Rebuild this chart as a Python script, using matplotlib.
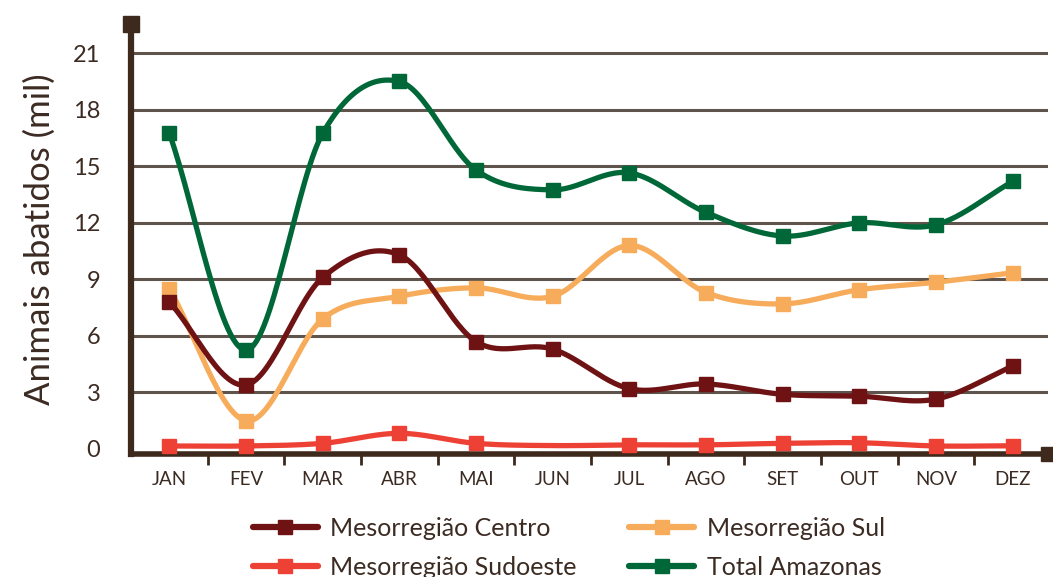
import numpy as np
import matplotlib
matplotlib.use("Agg")
import matplotlib.pyplot as plt
from matplotlib.lines import Line2D

plt.rcParams['font.family'] = ['Lato', 'DejaVu Sans']

meses = ["JAN", "FEV", "MAR", "ABR", "MAI", "JUN", "JUL", "AGO", "SET", "OUT", "NOV", "DEZ"]

centro = [7.8, 3.4, 9.1, 10.3, 5.7, 5.3, 3.2, 3.45, 2.9, 2.8, 2.65, 4.4]
sul = [8.5, 1.5, 6.9, 8.1, 8.55, 8.1, 10.8, 8.3, 7.7, 8.45, 8.85, 9.35]
sudoeste = [0.16, 0.16, 0.3, 0.83, 0.3, 0.18, 0.22, 0.22, 0.3, 0.33, 0.16, 0.17]
total = [16.75, 5.25, 16.75, 19.5, 14.8, 13.75, 14.65, 12.55, 11.3, 12.0, 11.9, 14.2]

# Sudoeste nao tem marcador em JUN
sudoeste_marcas = [0, 1, 2, 3, 4, 6, 7, 8, 9, 10, 11]

yticks = [0, 3, 6, 9, 12, 15, 18, 21]

marrom = "#3d2a1c"
texto = "#3b2b22"
grade = "#5f544c"


def suave(xs, ys, n=30):
    # curva catmull-rom passando pelos pontos
    xs = np.asarray(xs, float)
    ys = np.asarray(ys, float)
    px = np.concatenate([[2 * xs[0] - xs[1]], xs, [2 * xs[-1] - xs[-2]]])
    py = np.concatenate([[2 * ys[0] - ys[1]], ys, [2 * ys[-1] - ys[-2]]])
    ox, oy = [], []
    t = np.linspace(0, 1, n, endpoint=False)
    for i in range(1, len(px) - 2):
        for p, o in ((px, ox), (py, oy)):
            p0, p1, p2, p3 = p[i - 1], p[i], p[i + 1], p[i + 2]
            o.extend(0.5 * (2 * p1 + (-p0 + p2) * t
                            + (2 * p0 - 5 * p1 + 4 * p2 - p3) * t ** 2
                            + (-p0 + 3 * p1 - 3 * p2 + p3) * t ** 3))
    ox.append(xs[-1])
    oy.append(ys[-1])
    return np.array(ox), np.array(oy)


fig = plt.figure(figsize=(10.53, 5.77), dpi=100)
ax = fig.add_axes([0.1244, 0.2132, 0.8709, 0.7452])

x = np.arange(len(meses))
cores = {
    "Mesorregião Centro": "#6e1214",
    "Mesorregião Sul": "#f6ac5a",
    "Mesorregião Sudoeste": "#ee4136",
    "Total Amazonas": "#006838",
}
dados = {
    "Mesorregião Centro": (centro, None),
    "Mesorregião Sul": (sul, None),
    "Mesorregião Sudoeste": (sudoeste, sudoeste_marcas),
    "Total Amazonas": (total, None),
}

for nome in ["Mesorregião Sudoeste", "Mesorregião Sul", "Mesorregião Centro", "Total Amazonas"]:
    vals, marcas = dados[nome]
    cor = cores[nome]
    sx, sy = suave(x, vals)
    ax.plot(sx, sy, color=cor, lw=3.8, solid_capstyle="round", zorder=3)
    idx = list(range(len(vals))) if marcas is None else marcas
    ax.plot(x[idx], np.asarray(vals)[idx], ls="none", marker="s", ms=9.5,
            color=cor, zorder=4)

# legenda preenche por coluna: Centro/Sudoeste, Sul/Total
handles = [Line2D([], [], color=cores[n], lw=4.5, marker="s", ms=10,
                  solid_capstyle="round", label=n)
           for n in ["Mesorregião Centro", "Mesorregião Sudoeste",
                     "Mesorregião Sul", "Total Amazonas"]]

ax.set_xlim(-0.5, 11.46)
ax.set_ylim(-0.265, 22.55)

for v in yticks[1:]:
    ax.axhline(v, color=grade, lw=2.2, zorder=1)

ax.set_yticks(yticks)
ax.set_yticklabels([str(v) for v in yticks], fontsize=17, color=texto)
ax.tick_params(axis="y", length=0, pad=22)

ax.set_xticks(x)
ax.set_xticklabels(meses, fontsize=13.5, color=texto)
ax.set_xticks(np.arange(0.5, 11, 1), minor=True)
ax.tick_params(axis="x", which="major", length=0, pad=12)
ax.tick_params(axis="x", which="minor", length=8, width=2, color=marrom)

for s in ["top", "right"]:
    ax.spines[s].set_visible(False)
ax.spines["left"].set_color(marrom)
ax.spines["left"].set_linewidth(4.5)
ax.spines["bottom"].set_color(marrom)
ax.spines["bottom"].set_linewidth(4)

# quadrados nas pontas dos eixos
ax.plot([-0.5], [22.55], marker="s", ms=11, color=marrom, clip_on=False, zorder=5)
ax.plot([11.46], [-0.265], marker="s", ms=10, color=marrom, clip_on=False, zorder=5)

ax.set_ylabel("Animais abatidos (mil)", fontsize=25, color=texto, labelpad=12)

fig.legend(handles=handles, ncol=2, loc="upper left",
           bbox_to_anchor=(0.24, 0.104), frameon=False,
           handlelength=2.6, handletextpad=0.5, columnspacing=2.1,
           labelspacing=0.63, borderaxespad=0, borderpad=0,
           prop={"family": ["Lato", "DejaVu Sans"], "size": 18},
           labelcolor=texto)

fig.savefig("out.png", dpi=100)
